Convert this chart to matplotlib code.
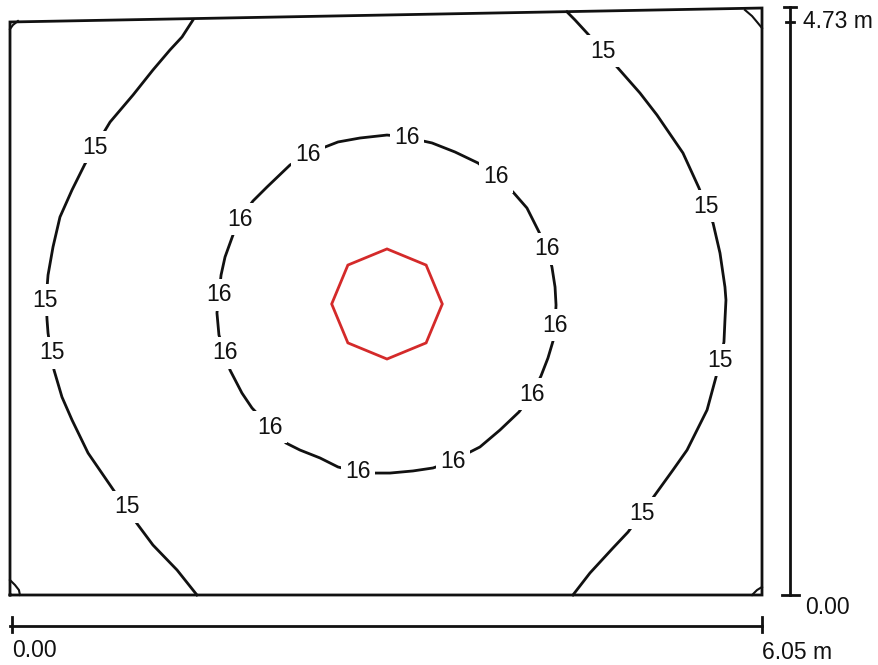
import matplotlib.pyplot as plt
from matplotlib.patches import RegularPolygon

plt.rcParams['font.family'] = ['Liberation Sans', 'DejaVu Sans']

# room size (m)
room_w = 6.05
room_h = 4.73

# room outline as drawn (top edge is slightly skewed in the source)
outline_x = [0.0, 6.05, 6.05, 0.0, 0.0]
outline_y = [0.0, 0.0, 4.746, 4.633, 0.0]

# isolines, level 15 (left and right branch)
iso15_left_x = [1.472, 1.384, 1.287, 1.150, 0.990, 0.805, 0.684, 0.603, 0.499, 0.402,
                0.346, 0.306, 0.290, 0.298, 0.306, 0.330, 0.354, 0.418, 0.499, 0.628,
                0.805, 0.925, 1.030, 1.150, 1.344, 1.504]
iso15_left_y = [4.649, 4.512, 4.407, 4.245, 4.043, 3.824, 3.622, 3.485, 3.275, 3.056,
                2.814, 2.587, 2.385, 2.224, 2.118, 1.957, 1.819, 1.601, 1.415, 1.148,
                0.889, 0.712, 0.566, 0.404, 0.202, 0.000]

iso15_right_x = [4.481, 4.546, 4.642, 4.771, 4.891, 5.068, 5.205, 5.414, 5.543, 5.599,
                 5.656, 5.712, 5.752, 5.760, 5.752, 5.744, 5.712, 5.680, 5.608, 5.447,
                 5.334, 5.189, 5.085, 4.972, 4.851, 4.666, 4.529]
iso15_right_y = [4.715, 4.649, 4.544, 4.398, 4.261, 4.059, 3.881, 3.574, 3.291, 3.145,
                 3.008, 2.765, 2.490, 2.385, 2.224, 2.046, 1.900, 1.763, 1.496, 1.172,
                 1.011, 0.809, 0.663, 0.509, 0.380, 0.178, 0.000]

# isoline, level 16 (closed ring)
iso16_x = [2.397, 2.534, 2.639, 2.816, 3.033, 3.194, 3.323, 3.395, 3.580, 3.765,
           3.910, 4.047, 4.159, 4.256, 4.320, 4.360, 4.385, 4.393, 4.385, 4.369,
           4.328, 4.272, 4.200, 4.095, 3.942, 3.781, 3.701, 3.564, 3.403, 3.242,
           3.057, 2.936, 2.800, 2.639, 2.494, 2.333, 2.220, 2.092, 1.947, 1.866,
           1.770, 1.730, 1.681, 1.665, 1.681, 1.698, 1.730, 1.794, 1.850, 1.955,
           2.068, 2.253, 2.397]
iso16_y = [3.558, 3.622, 3.663, 3.695, 3.719, 3.703, 3.671, 3.655, 3.582, 3.493,
           3.380, 3.258, 3.129, 2.935, 2.798, 2.652, 2.490, 2.345, 2.183, 2.054,
           1.916, 1.771, 1.625, 1.480, 1.334, 1.197, 1.156, 1.083, 1.027, 1.003,
           0.986, 0.986, 0.995, 1.035, 1.108, 1.172, 1.229, 1.358, 1.512, 1.633,
           1.819, 1.957, 2.102, 2.280, 2.426, 2.587, 2.733, 2.911, 3.040, 3.186,
           3.299, 3.477, 3.558]

# tiny unlabelled isolines in the corners
corners = [
    ([0.000, 0.024, 0.064], [4.576, 4.609, 4.641]),
    ([5.913, 5.970, 6.010, 6.050], [4.730, 4.681, 4.633, 4.584]),
    ([0.000, 0.040, 0.072, 0.080], [0.121, 0.081, 0.040, 0.000]),
    ([5.970, 6.010, 6.050], [0.000, 0.040, 0.065]),
]

# label positions on the isolines
labels15 = [(0.684, 3.622), (0.282, 2.385), (0.338, 1.957), (0.941, 0.712),
            (4.771, 4.398), (5.599, 3.145), (5.712, 1.900), (5.085, 0.663)]
labels16 = [(2.397, 3.558), (3.194, 3.703), (3.910, 3.380), (4.320, 2.798),
            (4.385, 2.183), (4.200, 1.625), (3.564, 1.083), (2.800, 0.995),
            (2.092, 1.358), (1.730, 1.957), (1.681, 2.426), (1.850, 3.040)]

# luminaire
lum_x, lum_y = 3.033, 2.353
lum_r = 0.445

fig = plt.figure(figsize=(8.79, 6.65), dpi=100)
ax = fig.add_axes([10 / 879, 70 / 665, 752 / 879, 585 / 665])
ax.set_xlim(0, room_w)
ax.set_ylim(0, room_h)
ax.axis('off')

ink = '#111111'
lw = 2.0
fs = 16.5

ax.plot(outline_x, outline_y, color=ink, lw=lw, clip_on=False, solid_joinstyle='miter')
ax.plot(iso15_left_x, iso15_left_y, color=ink, lw=lw, clip_on=False)
ax.plot(iso15_right_x, iso15_right_y, color=ink, lw=lw, clip_on=False)
ax.plot(iso16_x, iso16_y, color=ink, lw=lw, clip_on=False)
for cx, cy in corners:
    ax.plot(cx, cy, color=ink, lw=1.5, clip_on=False)

for val, pts in (('15', labels15), ('16', labels16)):
    for x, y in pts:
        ax.text(x, y, val, fontsize=fs, color=ink, ha='center', va='center',
                bbox=dict(facecolor='white', edgecolor='none', pad=3), zorder=5)

ax.add_patch(RegularPolygon((lum_x, lum_y), numVertices=8, radius=lum_r,
                            facecolor='none', edgecolor='#d42a2a', lw=2.0))

# scale bars
bx = 6.275
ax.plot([bx, bx], [0, 4.754], color=ink, lw=lw, clip_on=False)
ax.plot([bx - 0.05, bx + 0.05], [4.754, 4.754], color=ink, lw=lw, clip_on=False)
ax.plot([bx - 0.03, bx + 0.03], [4.633, 4.633], color=ink, lw=lw, clip_on=False)
ax.plot([bx - 0.065, bx + 0.075], [0, 0], color=ink, lw=lw, clip_on=False)
ax.text(6.38, 4.633, '4.73 m', fontsize=fs, color=ink, ha='left', va='center')
ax.text(6.396, -0.105, '0.00', fontsize=fs, color=ink, ha='left', va='center')

by = -0.251
ax.plot([0, room_w], [by, by], color=ink, lw=lw, clip_on=False)
ax.plot([0.016, 0.016], [by - 0.05, by + 0.07], color=ink, lw=lw, clip_on=False)
ax.plot([room_w, room_w], [by - 0.05, by + 0.07], color=ink, lw=lw, clip_on=False)
ax.text(0.016, -0.445, '0.00', fontsize=fs, color=ink, ha='left', va='center')
ax.text(6.05, -0.461, '6.05 m', fontsize=fs, color=ink, ha='left', va='center')

fig.savefig('out.png', dpi=100, facecolor='white')
